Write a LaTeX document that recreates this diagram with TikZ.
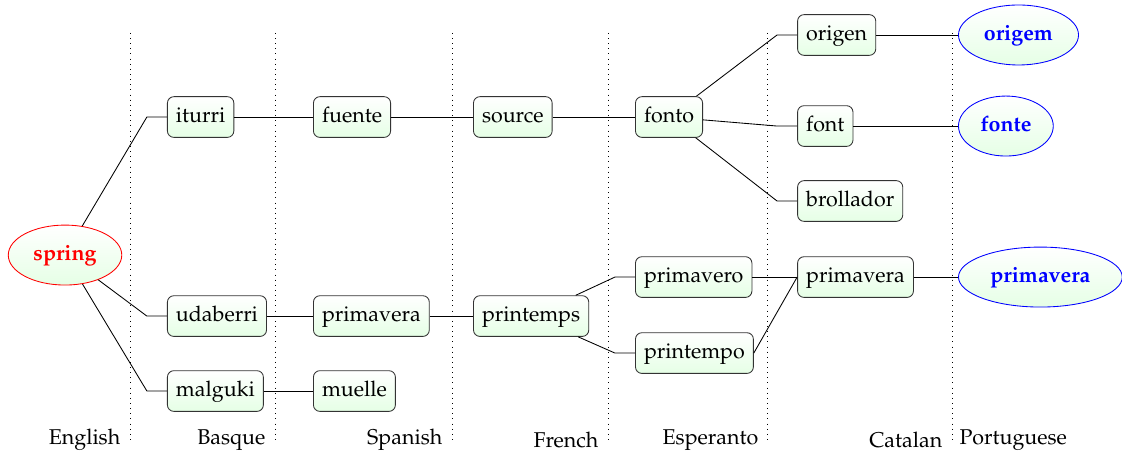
\documentclass[tikz,border=0pt]{standalone}
\usepackage[T1]{fontenc}
\usepackage{mathpazo}
\usepackage{tikz}
\usetikzlibrary{shapes.geometric, positioning, calc}
\tikzset{
  wordbox/.style={rectangle, rounded corners=3pt, draw=black!80, top color=white, bottom color=green!10, text height=7pt, text depth=2.2pt, inner ysep=4.9pt, inner xsep=4pt, anchor=west, font=\normalsize},
  rootnode/.style={ellipse, draw=red, top color=white, bottom color=green!10, text=red, text height=7pt, text depth=2pt, inner ysep=5.4pt, minimum width=53pt, inner xsep=3.5pt, font=\bfseries},
  leafnode/.style={ellipse, draw=blue, top color=white, bottom color=green!10, text=blue, text height=7pt, text depth=2pt, inner ysep=5.4pt, inner xsep=3.7pt, anchor=west, font=\bfseries},
  forkline/.style={thin, black},
  langline/.style={dotted, thin, black},
  langlabel/.style={font=\normalsize}
}

\begin{document}
\begin{tikzpicture}
  \useasboundingbox (0,0) rectangle (18.41,-7.434);

  % language columns
  \foreach \x/\lang in {2.133/EN, 4.513/EU, 7.417/ES, 9.977/FR, 12.60/EO, 15.62/CA} {
    \draw[langline] (\x,-0.54) -- (\x,-7.22) coordinate (d\lang);
  }
  \node[langlabel, left=1pt of dEN] (lEN) {English};
  \node[langlabel, left=1pt of dEU] (lEU) {Basque};
  \node[langlabel, left=1pt of dES] (lES) {Spanish};
  \node[langlabel, left=1pt of dFR] (lFR) {French};
  \node[langlabel, left=1pt of dEO] (lEO) {Esperanto};
  \node[langlabel, left=1pt of dCA] (lCA) {Catalan};
  \node[langlabel, right=0pt of dCA] (lPT) {Portuguese};

  % words
  \node[rootnode] (spring) at (1.067,-4.185) {spring};

  \node[wordbox] (iturri) at (2.74,-1.92) {iturri};
  \node[wordbox] (udaberri) at (2.74,-5.186) {udaberri};
  \node[wordbox] (malguki) at (2.74,-6.416) {malguki};

  \node[wordbox] (fuente) at (5.136,-1.92) {fuente};
  \node[wordbox] (primaveraES) at (5.136,-5.186) {primavera};
  \node[wordbox] (muelle) at (5.136,-6.416) {muelle};

  \node[wordbox] (source) at (7.762,-1.92) {source};
  \node[wordbox] (printemps) at (7.762,-5.186) {printemps};

  \node[wordbox] (fonto) at (10.42,-1.92) {fonto};
  \node[wordbox] (primavero) at (10.42,-4.546) {primavero};
  \node[wordbox] (printempo) at (10.42,-5.793) {printempo};

  \node[wordbox] (origen) at (13.08,-0.574) {origen};
  \node[wordbox] (font) at (13.08,-2.068) {font};
  \node[wordbox] (brollador) at (13.08,-3.298) {brollador};
  \node[wordbox] (primaveraCA) at (13.08,-4.546) {primavera};

  \node[leafnode] (origem) at (15.72,-0.574) {origem};
  \node[leafnode] (fonte) at (15.72,-2.068) {fonte};
  \node[leafnode] (primaveraPT) at (15.72,-4.546) {primavera};

  % forked edges
  \foreach \from/\to in {spring/iturri, spring/udaberri, spring/malguki,
      iturri/fuente, udaberri/primaveraES, malguki/muelle,
      fuente/source, primaveraES/printemps,
      source/fonto, printemps/primavero, printemps/printempo,
      fonto/origen, fonto/font, fonto/brollador, primavero/primaveraCA,
      origen/origem, font/fonte, primaveraCA/primaveraPT} {
    \draw[forkline] (\from) -- ([xshift=-0.33cm]\to.west) -- (\to.west);
  }
  \draw[forkline] (printempo.east) -- (primaveraCA.west);
\end{tikzpicture}
\end{document}
